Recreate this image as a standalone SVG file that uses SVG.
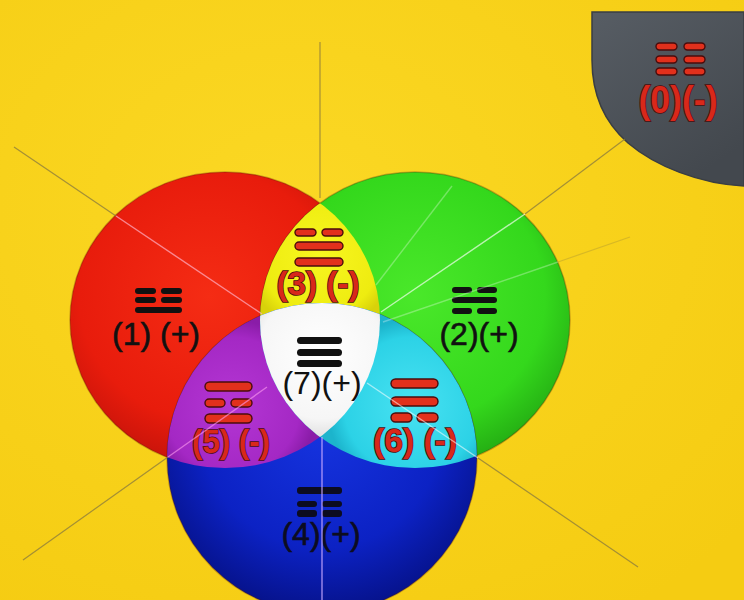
<svg xmlns="http://www.w3.org/2000/svg" width="744" height="600" viewBox="0 0 744 600">
<style>
.bk{fill:#111111;}
.rb{fill:#e2301c;stroke:#4a0c0c;stroke-width:1.4;}
.lb{font-family:"Liberation Sans",Arial,sans-serif;font-size:32px;fill:#111111;text-anchor:middle;}
.sb{stroke:#111111;stroke-width:0.6;}
.rl{font-family:"Liberation Sans",Arial,sans-serif;font-size:34px;font-weight:bold;fill:#d8281a;stroke:#4a0c0c;stroke-width:1.6;paint-order:stroke;text-anchor:middle;}
.dk{stroke:#8f7e3c;stroke-width:1.2;stroke-opacity:0.8;fill:none;}
.lt{stroke:#ffffff;stroke-width:1.4;stroke-opacity:0.55;fill:none;}
.edge{stroke:#5a1a00;stroke-opacity:0.3;stroke-width:1.5;}
</style>
<defs>
<radialGradient id="gBg" cx="0.4" cy="0.35" r="0.8">
<stop offset="0" stop-color="#fbd824"/><stop offset="1" stop-color="#f5cc12"/>
</radialGradient>
<radialGradient id="gRed" cx="0.45" cy="0.42" r="0.6">
<stop offset="0" stop-color="#f52c14"/><stop offset="0.7" stop-color="#e81c0c"/><stop offset="1" stop-color="#c2120a"/>
</radialGradient>
<radialGradient id="gGreen" cx="0.5" cy="0.42" r="0.6">
<stop offset="0" stop-color="#4ae82a"/><stop offset="0.7" stop-color="#34d81c"/><stop offset="1" stop-color="#22a812"/>
</radialGradient>
<radialGradient id="gBlue" cx="0.5" cy="0.4" r="0.6">
<stop offset="0" stop-color="#1634e0"/><stop offset="0.65" stop-color="#0c22c4"/><stop offset="1" stop-color="#06128a"/>
</radialGradient>
<radialGradient id="gYel" gradientUnits="userSpaceOnUse" cx="320" cy="255" r="75">
<stop offset="0" stop-color="#f8f620"/><stop offset="0.8" stop-color="#eeec10"/><stop offset="1" stop-color="#d8d20a"/>
</radialGradient>
<radialGradient id="gMag" gradientUnits="userSpaceOnUse" cx="232" cy="405" r="85">
<stop offset="0" stop-color="#b436d4"/><stop offset="0.8" stop-color="#a428c4"/><stop offset="1" stop-color="#8a1ca8"/>
</radialGradient>
<radialGradient id="gCyan" gradientUnits="userSpaceOnUse" cx="412" cy="405" r="85">
<stop offset="0" stop-color="#48e2f2"/><stop offset="0.8" stop-color="#2cd2e6"/><stop offset="1" stop-color="#1cb4cc"/>
</radialGradient>
<radialGradient id="gWhite" gradientUnits="userSpaceOnUse" cx="322" cy="355" r="85">
<stop offset="0" stop-color="#ffffff"/><stop offset="0.75" stop-color="#f6f6f6"/><stop offset="1" stop-color="#dedede"/>
</radialGradient>
<linearGradient id="gGray" x1="0" y1="0" x2="0.6" y2="1">
<stop offset="0" stop-color="#575d64"/><stop offset="1" stop-color="#43484e"/>
</linearGradient>
<clipPath id="cRed"><ellipse cx="225" cy="320" rx="155" ry="148"/></clipPath>
<clipPath id="cGreen"><ellipse cx="415" cy="320" rx="155" ry="148"/></clipPath>
</defs>

<rect x="0" y="0" width="744" height="600" fill="url(#gBg)"/>

<g id="node-1">
<ellipse cx="225" cy="320" rx="155" ry="148" fill="url(#gRed)" class="edge"/>
<rect class="bk" x="135" y="288" width="21" height="6" rx="3"/>
<rect class="bk" x="161" y="288" width="21" height="6" rx="3"/>
<rect class="bk" x="135" y="297" width="21" height="6" rx="3"/>
<rect class="bk" x="161" y="297" width="21" height="6" rx="3"/>
<rect class="bk" x="135" y="307" width="47" height="6" rx="3"/>
<text class="lb sb" x="156" y="345">(1) (+)</text>
</g>

<g id="node-2">
<ellipse cx="415" cy="320" rx="155" ry="148" fill="url(#gGreen)" class="edge"/>
<rect class="bk" x="452" y="287" width="20" height="6" rx="3"/>
<rect class="bk" x="477" y="287" width="20" height="6" rx="3"/>
<rect class="bk" x="452" y="297" width="45" height="6" rx="3"/>
<rect class="bk" x="452" y="308" width="20" height="6" rx="3"/>
<rect class="bk" x="477" y="308" width="20" height="6" rx="3"/>
<text class="lb sb" x="479" y="345">(2)(+)</text>
</g>

<g id="node-4">
<circle cx="322" cy="458" r="155" fill="url(#gBlue)" class="edge"/>
<rect fill="#0c0c20" x="297" y="487" width="45" height="7" rx="3"/>
<rect fill="#0c0c20" x="297" y="501" width="20" height="6" rx="3"/>
<rect fill="#0c0c20" x="322" y="501" width="20" height="6" rx="3"/>
<rect fill="#0c0c20" x="297" y="510" width="20" height="7" rx="3"/>
<rect fill="#0c0c20" x="322" y="510" width="20" height="7" rx="3"/>
<text class="lb" x="321" y="545" style="fill:#0c0c20;stroke:#0c0c20;stroke-width:0.6">(4)(+)</text>
</g>

<g id="node-3">
<g clip-path="url(#cRed)">
<ellipse cx="415" cy="320" rx="155" ry="148" fill="url(#gYel)"/>
</g>
<rect class="rb" x="295" y="229" width="21" height="7" rx="3.5"/>
<rect class="rb" x="322" y="229" width="21" height="7" rx="3.5"/>
<rect class="rb" x="295" y="242" width="48" height="8" rx="4"/>
<rect class="rb" x="295" y="258" width="48" height="8" rx="4"/>
<text class="rl" x="318" y="295" textLength="83" lengthAdjust="spacingAndGlyphs">(3) (-)</text>
</g>

<g id="node-5">
<g clip-path="url(#cRed)">
<circle cx="322" cy="458" r="155" fill="url(#gMag)"/>
</g>
<rect class="rb" x="205" y="382" width="47" height="9" rx="4.5"/>
<rect class="rb" x="205" y="399" width="20" height="8" rx="4"/>
<rect class="rb" x="231" y="399" width="21" height="8" rx="4"/>
<rect class="rb" x="205" y="414" width="47" height="9" rx="4.5"/>
<text class="rl" x="231" y="453" textLength="78" lengthAdjust="spacingAndGlyphs">(5) (-)</text>
</g>

<g id="node-6">
<g clip-path="url(#cGreen)">
<circle cx="322" cy="458" r="155" fill="url(#gCyan)"/>
</g>
<rect class="rb" x="391" y="379" width="47" height="9" rx="4.5"/>
<rect class="rb" x="391" y="397" width="47" height="9" rx="4.5"/>
<rect class="rb" x="391" y="413" width="21" height="9" rx="4.5"/>
<rect class="rb" x="417" y="413" width="21" height="9" rx="4.5"/>
<text class="rl" x="415" y="452" textLength="84" lengthAdjust="spacingAndGlyphs">(6) (-)</text>
</g>

<g id="node-7">
<g clip-path="url(#cRed)">
<g clip-path="url(#cGreen)">
<circle cx="322" cy="458" r="155" fill="url(#gWhite)"/>
</g>
</g>
<rect class="bk" x="297" y="337" width="45" height="7" rx="3.5"/>
<rect class="bk" x="297" y="349" width="45" height="7" rx="3.5"/>
<rect class="bk" x="297" y="360" width="45" height="7" rx="3.5"/>
<text class="lb" x="322" y="394">(7)(+)</text>
</g>

<g id="node-0">
<path d="M592,12 H744 V186 C700,184 655,166 628,143 C604,122 592,95 592,60 Z" fill="url(#gGray)" stroke="#3a3e43" stroke-width="1.5"/>
<rect class="rb" x="656" y="43" width="21" height="7" rx="3.5"/>
<rect class="rb" x="684" y="43" width="21" height="7" rx="3.5"/>
<rect class="rb" x="656" y="56" width="21" height="7" rx="3.5"/>
<rect class="rb" x="684" y="56" width="21" height="7" rx="3.5"/>
<rect class="rb" x="656" y="68" width="21" height="7" rx="3.5"/>
<rect class="rb" x="684" y="68" width="21" height="7" rx="3.5"/>
<text class="rl" x="678" y="113" style="font-size:38px" textLength="79" lengthAdjust="spacingAndGlyphs">(0)(-)</text>
</g>

<g id="connectors">
<line class="dk" x1="320" y1="42" x2="320" y2="198"/>
<line class="lt" x1="322" y1="437" x2="322" y2="600" style="stroke:#c8a8ff;stroke-opacity:0.8"/>
<line class="dk" x1="14" y1="147" x2="116" y2="216"/>
<line class="lt" x1="116" y1="216" x2="262" y2="314" style="stroke:#ffb0c8;stroke-opacity:0.7"/>
<line class="lt" x1="367" y1="383" x2="478" y2="458"/>
<line class="dk" x1="478" y1="458" x2="638" y2="567"/>
<line class="dk" x1="625" y1="139" x2="525" y2="214"/>
<line class="lt" x1="525" y1="214" x2="381" y2="312" style="stroke-opacity:0.65"/>
<line class="lt" x1="267" y1="387" x2="168" y2="457" style="stroke:#ff9cf0;stroke-opacity:0.6"/>
<line class="dk" x1="168" y1="457" x2="23" y2="560"/>
<line class="lt" x1="376" y1="285" x2="452" y2="186" style="stroke-opacity:0.3"/>
<line class="lt" x1="383" y1="322" x2="558" y2="262" style="stroke-opacity:0.3"/>
<line class="dk" x1="558" y1="262" x2="630" y2="237" style="stroke-opacity:0.3"/>
</g>
</svg>
